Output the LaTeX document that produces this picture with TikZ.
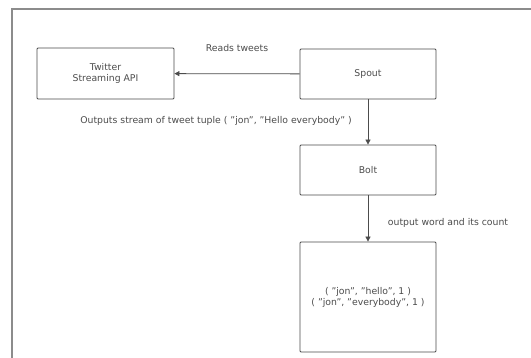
\documentclass[tikz,border=0pt]{standalone}
\usepackage{fontspec}
\setmainfont{DejaVu Sans}
\usetikzlibrary{arrows.meta}
\begin{document}
\begin{tikzpicture}[x=1pt,y=-1pt,
  box/.style={draw=black!70,line width=0.8pt,rounded corners=1pt,inner sep=0pt},
  conn/.style={draw=black!70,line width=0.8pt,-{Triangle[width=5pt,length=5pt]}},
  lbl/.style={font=\fontsize{9.3}{11}\selectfont,text=black!70},
  every node/.style={font=\fontsize{9.3}{11}\selectfont,text=black!70,align=center}]
\useasboundingbox (0,0) rectangle (531,358);
\fill[white] (0,0) rectangle (531,358);
\draw[black!45,line width=1.3pt] (12,360) -- (12,9) -- (533,9);
\node[box,minimum width=137pt,minimum height=51pt] (tw) at (105.5,73.5) {Twitter\\Streaming API};
\node[box,minimum width=136pt,minimum height=50pt] (sp) at (368,74) {Spout};
\node[box,minimum width=136pt,minimum height=50pt] (bo) at (368,170) {Bolt};
\node[box,minimum width=136pt,minimum height=110pt] (rs) at (368,297) {( "jon", "hello", 1 )\\( "jon", "everybody", 1 )};
\draw[conn] (sp) -- (tw);
\draw[conn] (sp) -- (bo);
\draw[conn] (bo) -- (rs);
\node[lbl] (l1) at (237,48) {Reads tweets};
\node[lbl] (l2) at (216,121) {Outputs stream of tweet tuple ( "jon", "Hello everybody" )};
\node[lbl] (l3) at (448,223) {output word and its count};
\end{tikzpicture}
\end{document}
